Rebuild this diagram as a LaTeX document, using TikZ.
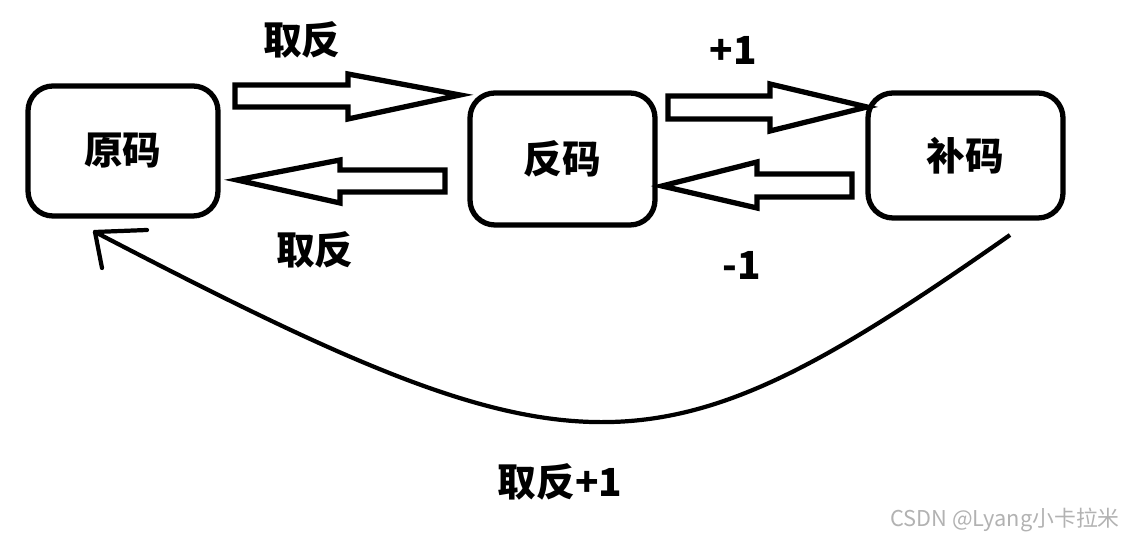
\documentclass[tikz,border=0pt]{standalone}
\usepackage{fontspec}
\setmainfont{Noto Sans CJK SC}
\begin{document}
\begin{tikzpicture}[line width=1.5pt]
  \tikzset{codebox/.style={draw, rounded corners=0.25cm, font=\fontsize{11}{13}\selectfont\bfseries, inner sep=1.5pt},
           oplabel/.style={font=\fontsize{11}{13}\selectfont\bfseries, inner sep=1.5pt}}
  \useasboundingbox (0.000,0.000) rectangle (11.220,5.400);
  \node[codebox, minimum width=1.90cm, minimum height=1.30cm] (yuan) at (1.230,3.890) {原码};
  \node[codebox, minimum width=1.85cm, minimum height=1.32cm] (fan) at (5.625,3.810) {反码};
  \node[codebox, minimum width=1.95cm, minimum height=1.25cm] (bu) at (9.655,3.845) {补码};
  \draw[line join=miter] (2.350,4.550) -- (3.480,4.550) -- (3.480,4.660) -- (4.600,4.450) -- (3.480,4.210) -- (3.480,4.330) -- (2.350,4.330) -- cycle;
  \draw[line join=miter] (2.370,3.600) -- (3.400,3.800) -- (3.400,3.700) -- (4.450,3.700) -- (4.450,3.480) -- (3.400,3.480) -- (3.400,3.370) -- cycle;
  \draw[line join=miter] (6.680,4.440) -- (7.700,4.440) -- (7.700,4.560) -- (8.670,4.330) -- (7.700,4.090) -- (7.700,4.210) -- (6.680,4.210) -- cycle;
  \draw[line join=miter] (6.620,3.540) -- (7.570,3.780) -- (7.570,3.660) -- (8.520,3.660) -- (8.520,3.430) -- (7.570,3.430) -- (7.570,3.320) -- cycle;
  \coordinate (start) at (10.100,3.050);
  \coordinate (tip) at (0.950,3.080);
  \draw[line width=1.2pt] (start) .. controls (6.530,0.550) and (5.810,0.550) .. (tip);
  \draw[line width=1.2pt, line cap=round] (tip) -- (1.470,3.100);
  \draw[line width=1.2pt, line cap=round] (tip) -- (1.020,2.720);
  \node[oplabel] (l1) at (3.020,5.000) {取反};
  \node[oplabel] (l2) at (3.150,2.900) {取反};
  \node[oplabel] (l3) at (7.330,4.900) {+1};
  \node[oplabel] (l4) at (7.420,2.750) {-1};
  \node[oplabel] (l5) at (5.600,0.580) {取反+1};
  \node[font=\fontsize{6.2}{8}\selectfont, text=black!30, inner sep=1.5pt] (mark) at (10.050,0.200) {CSDN @Lyang小卡拉米};
\end{tikzpicture}
\end{document}
